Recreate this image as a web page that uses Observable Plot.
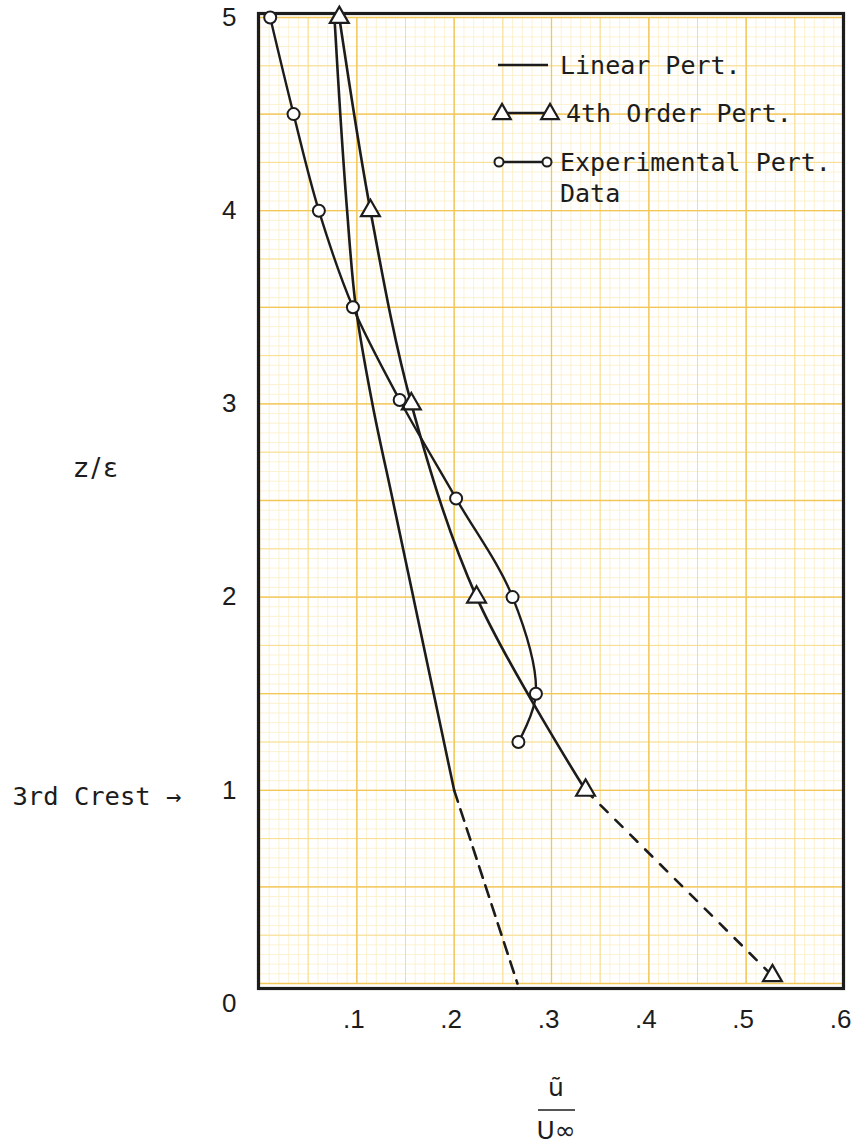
<!DOCTYPE html>
<html>
<head>
<meta charset="utf-8">
<script src="https://cdn.jsdelivr.net/npm/d3@7"></script>
<script src="https://cdn.jsdelivr.net/npm/@observablehq/plot@0.6"></script>
<style>
  body { margin: 0; background: #fff; }
  #wrap { position: relative; width: 857px; height: 1145px; overflow: hidden; }
  #overlay { position: absolute; left: 0; top: 0; pointer-events: none; }
</style>
</head>
<body>
<div id="wrap"></div>
<script>
// ---- data ----
const linearZ = [5, 4.5, 4, 3.5, 3, 2.5, 2, 1.5, 1];
const linearU = [0.077, 0.083, 0.090, 0.099, 0.116, 0.137, 0.158, 0.179, 0.200];
const linearExtZ = [1, 0];
const linearExtU = [0.200, 0.265];

const fourthZ = [5, 4, 3, 2, 1];
const fourthU = [0.082, 0.114, 0.156, 0.223, 0.335];
const fourthExtZ = [1, 0.04];
const fourthExtU = [0.335, 0.527];

const expZ = [5, 4.5, 4, 3.5, 3.02, 2.51, 2, 1.5, 1.25];
const expU = [0.011, 0.035, 0.061, 0.096, 0.144, 0.202, 0.260, 0.284, 0.266];

const xTicks = [0.1, 0.2, 0.3, 0.4, 0.5, 0.6];
const yTicks = [1, 2, 3, 4, 5];
const yZeroTick = [0];
const crestNote = [{z: 1, label: "3rd Crest \u2192"}];
const legendLabels = ["Linear Pert.", "4th Order Pert.", "Experimental Pert.", "Data"];

// ---- build tables ----
const zip = (zs, us) => zs.map((z, i) => ({z, u: us[i]}));
const linear = zip(linearZ, linearU);
const linearExt = zip(linearExtZ, linearExtU);
const fourth = zip(fourthZ, fourthU);
const fourthExt = zip(fourthExtZ, fourthExtU);
const fourthPts = [...fourth, fourthExt[1]];
const exp = zip(expZ, expU);

// graph-paper grid
const round = v => Math.round(v * 1000) / 1000;
const xFine = d3.range(0, 61).map(i => round(i * 0.01));
const xMid = d3.range(0, 13).map(i => round(i * 0.05));
const xMajor = d3.range(0, 7).map(i => round(i * 0.1));
const yFine = d3.range(0, 101).map(i => round(i * 0.05));
const yMid = d3.range(0, 21).map(i => round(i * 0.25));
const yMajor = d3.range(0, 11).map(i => round(i * 0.5));

const ink = "#1c1c1c";
const mono = "DejaVu Sans Mono";
const sans = "Liberation Sans";

const plot = Plot.plot({
  width: 857,
  height: 1145,
  marginLeft: 259,
  marginRight: 14,
  marginTop: 17,
  marginBottom: 162,
  x: {domain: [0, 0.6]},
  y: {domain: [0, 5]},
  style: {background: "transparent", fontFamily: sans, color: ink},
  marks: [
    Plot.ruleX(xFine, {stroke: "#fbefc6", strokeWidth: 0.8}),
    Plot.ruleY(yFine, {stroke: "#fbefc6", strokeWidth: 0.8}),
    Plot.ruleX(xMid, {stroke: "#f7dd8e", strokeWidth: 1}),
    Plot.ruleY(yMid, {stroke: "#f7dd8e", strokeWidth: 1}),
    Plot.ruleX(xMajor, {stroke: "#f2c659", strokeWidth: 1.3}),
    Plot.ruleY(yMajor, {stroke: "#f2c659", strokeWidth: 1.3}),
    Plot.frame({stroke: ink, strokeWidth: 3.2, insetTop: -4, insetBottom: -5, insetLeft: -1}),

    // Linear perturbation
    Plot.line(linear, {x: "u", y: "z", curve: "catmull-rom", stroke: ink, strokeWidth: 2.6}),
    Plot.line(linearExt, {x: "u", y: "z", stroke: ink, strokeWidth: 2.6, strokeDasharray: "12,8"}),

    // 4th order perturbation
    Plot.line(fourth, {x: "u", y: "z", curve: "catmull-rom", stroke: ink, strokeWidth: 2.6}),
    Plot.line(fourthExt, {x: "u", y: "z", stroke: ink, strokeWidth: 2.6, strokeDasharray: "10,11"}),
    Plot.dot(fourthPts, {x: "u", y: "z", symbol: "triangle", r: 7, stroke: ink, strokeWidth: 2.2, fill: "white"}),

    // Experimental data
    Plot.line(exp, {x: "u", y: "z", curve: "catmull-rom", stroke: ink, strokeWidth: 2.4}),
    Plot.dot(exp, {x: "u", y: "z", symbol: "circle", r: 6, stroke: ink, strokeWidth: 2, fill: "white"}),

    // axes
    Plot.axisX(xTicks, {tickSize: 0, tickPadding: 26, fontSize: 26, dx: -3, label: null,
      tickFormat: d => d3.format(".1f")(d).replace(/^0/, "")}),
    Plot.axisY(yTicks, {tickSize: 0, tickPadding: 23, fontSize: 26, label: null, tickFormat: d3.format("d")}),
    Plot.axisY(yZeroTick, {tickSize: 0, tickPadding: 23, fontSize: 26, dy: 20, label: null, tickFormat: d3.format("d")}),

    Plot.text(crestNote, {y: "z", text: "label", frameAnchor: "left", textAnchor: "start",
      dx: -247, dy: 7, fontSize: 25.5, fontFamily: mono, fill: ink})
  ]
});
document.getElementById("wrap").appendChild(plot);

// ---- overlay: legend and axis titles ----
const ov = d3.select("#wrap").append("svg").attr("id", "overlay")
  .attr("width", 857).attr("height", 1145);

const lg = ov.append("g").attr("fill", "none").attr("stroke", ink);
// entry 1: solid line
lg.append("line").attr("x1", 498).attr("x2", 548).attr("y1", 65).attr("y2", 65).attr("stroke-width", 2.6);
// entry 2: triangles + line
lg.append("line").attr("x1", 503).attr("x2", 550).attr("y1", 113).attr("y2", 113).attr("stroke-width", 2.4);
const tri = d3.symbol(d3.symbolTriangle, Math.PI * 6.5 * 6.5);
[502, 550].forEach(cx => lg.append("path").attr("d", tri()).attr("transform", `translate(${cx},114)`)
  .attr("fill", "white").attr("stroke-width", 2.2));
// entry 3: circles + line
lg.append("line").attr("x1", 499).attr("x2", 547).attr("y1", 162).attr("y2", 162).attr("stroke-width", 2.4);
[499, 547].forEach(cx => lg.append("circle").attr("cx", cx).attr("cy", 162).attr("r", 4.5)
  .attr("fill", "white").attr("stroke-width", 2));

const lt = ov.append("g").attr("font-family", mono).attr("font-size", 25).attr("fill", ink)
  .attr("dominant-baseline", "central");
lt.append("text").attr("x", 560).attr("y", 65).text(legendLabels[0]);
lt.append("text").attr("x", 566).attr("y", 113).text(legendLabels[1]);
lt.append("text").attr("x", 560).attr("y", 162).text(legendLabels[2]);
lt.append("text").attr("x", 560).attr("y", 193).text(legendLabels[3]);

// y-axis title
ov.append("text").attr("x", 74).attr("y", 467).attr("dominant-baseline", "central")
  .attr("font-family", "DejaVu Sans").attr("font-size", 27).attr("fill", ink)
  .attr("letter-spacing", 3).text("z/\u03b5");

// x-axis title: u-tilde over U-infinity
ov.append("text").attr("x", 556).attr("y", 1096).attr("text-anchor", "middle")
  .attr("font-family", "DejaVu Sans").attr("font-size", 25).attr("fill", ink).text("\u0169");
ov.append("line").attr("x1", 538).attr("x2", 575).attr("y1", 1110).attr("y2", 1110)
  .attr("stroke", ink).attr("stroke-width", 1.6);
ov.append("text").attr("x", 556).attr("y", 1139).attr("text-anchor", "middle")
  .attr("font-family", "DejaVu Sans").attr("font-size", 25).attr("fill", ink).text("U\u221e");
</script>
</body>
</html>
